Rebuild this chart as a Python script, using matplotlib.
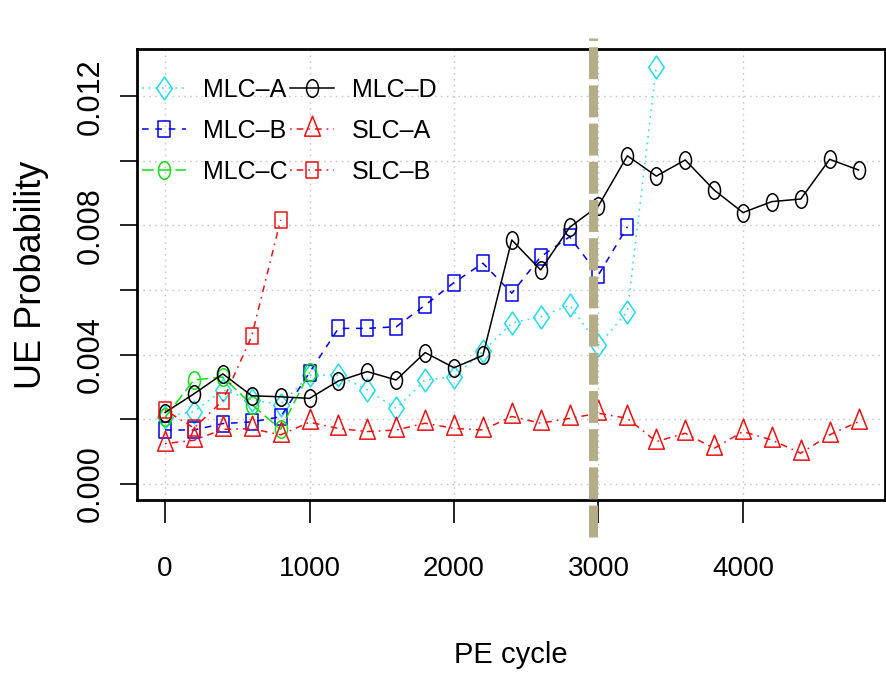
import matplotlib
matplotlib.use('Agg')
import matplotlib.pyplot as plt
import numpy as np
from matplotlib.path import Path

# PE cycles where each chip was measured
pe_cycles = [0, 200, 400, 600, 800, 1000, 1200, 1400, 1600, 1800, 2000, 2200,
             2400, 2600, 2800, 3000, 3200, 3400, 3600, 3800, 4000, 4200, 4400,
             4600, 4800]

# UE probability (x 1e-3)
mlc_a = [2.07, 2.23, 2.90, 2.60, 2.45, 3.36, 3.36, 2.90, 2.33, 3.21, 3.31, 4.10,
         4.97, 5.17, 5.53, 4.29, 5.33, 12.92]
mlc_b = [1.66, 1.66, 1.86, 1.91, 2.07, 3.44, 4.81, 4.81, 4.86, 5.53, 6.23, 6.83,
         5.90, 7.03, 7.65, 6.47, 7.96]
mlc_c = [2.05, 3.21, 3.30, 2.45, 1.68, 3.45]
mlc_d = [2.20, 2.78, 3.40, 2.72, 2.69, 2.64, 3.18, 3.47, 3.21, 4.06, 3.59, 3.97,
         7.55, 6.62, 7.94, 8.61, 10.16, 9.53, 10.03, 9.10, 8.40, 8.74, 8.82,
         10.05, 9.72]
slc_a = [1.24, 1.34, 1.68, 1.70, 1.51, 1.90, 1.71, 1.61, 1.66, 1.87, 1.71, 1.66,
         2.08, 1.87, 2.02, 2.18, 2.02, 1.30, 1.56, 1.09, 1.61, 1.35, 0.94, 1.51,
         1.92]
slc_b = [2.28, 1.72, 2.57, 4.57, 8.17]

series_names = ['MLC–A', 'MLC–B', 'MLC–C', 'MLC–D', 'SLC–A', 'SLC–B']
cutoff_pe = 2962

xtick_vals = [0, 1000, 2000, 3000, 4000]
ytick_vals = [0.0, 0.002, 0.004, 0.006, 0.008, 0.010, 0.012]
ytick_labels = ['0.000', '', '0.004', '', '0.008', '', '0.012']

plt.rcParams['lines.scale_dashes'] = False
FONT = ['Liberation Sans', 'DejaVu Sans']
plt.rcParams['font.family'] = FONT


def tall(verts, codes=None):
    """marker path, taller than wide (picture is stretched vertically)"""
    return Path(np.asarray(verts, dtype=float), codes)


uc = Path.unit_circle()
m_circle = tall(uc.vertices * [0.686, 1.0], uc.codes)
m_diamond = tall([(0, -1), (0.68, 0), (0, 1), (-0.68, 0), (0, -1)],
                 [Path.MOVETO, Path.LINETO, Path.LINETO, Path.LINETO, Path.CLOSEPOLY])
m_square = tall([(-0.74, -1), (0.74, -1), (0.74, 1), (-0.74, 1), (-0.74, -1)],
                [Path.MOVETO, Path.LINETO, Path.LINETO, Path.LINETO, Path.CLOSEPOLY])
m_tri = tall([(0, 1), (0.59, -0.5), (-0.59, -0.5), (0, 1)],
             [Path.MOVETO, Path.LINETO, Path.LINETO, Path.CLOSEPOLY])

u = 1.2  # R line type unit in points
dotted = (0, (u, 3 * u))
dashed = (0, (4 * u, 4 * u))
longdash = (0, (7 * u, 3 * u))
dotdash = (0, (u, 3 * u, 4 * u, 3 * u))

CYAN = '#22DDEE'
BLUE = '#0000EE'
GREEN = '#11E011'
RED = '#EE1111'

styles = [
    (mlc_a, CYAN, dotted, m_diamond, 16.5),
    (mlc_b, BLUE, dashed, m_square, 12.0),
    (mlc_c, GREEN, longdash, m_circle, 12.6),
    (mlc_d, 'black', '-', m_circle, 12.6),
    (slc_a, RED, dotdash, m_tri, 19.2),
    (slc_b, RED, dotdash, m_square, 12.0),
]

fig = plt.figure(figsize=(8.87, 6.77), dpi=100)
ax = fig.add_axes([137 / 887, 177 / 677, 748 / 887, 451 / 677])

for name, (vals, col, ls, mk, ms) in zip(series_names, styles):
    y = np.array(vals) * 1e-3
    x = pe_cycles[:len(y)]
    ax.plot(x, y, color=col, linestyle=ls, linewidth=1.1, marker=mk,
            markersize=ms, markerfacecolor='none', markeredgecolor=col,
            markeredgewidth=1.1, label=name, zorder=3)

# wear-out boundary, drawn past the box like in the original
ax.plot([cutoff_pe, cutoff_pe], [-0.00166, 0.0138], color='#B5AC88', lw=6.5,
        linestyle=(0, (23, 4.5)), clip_on=False, zorder=4)

ax.set_xlim(-194, 4983)
ax.set_ylim(-0.00051, 0.01347)
ax.set_xticks(xtick_vals)
ax.set_xticklabels([str(v) for v in xtick_vals])
ax.set_yticks(ytick_vals)
ax.set_yticklabels(ytick_labels, rotation=90, va='center')

ax.grid(True, color='#C8C8C8', linestyle=(0, (1.2, 3)), linewidth=1.0)
ax.set_axisbelow(True)
for sp in ax.spines.values():
    sp.set_linewidth(2.0)

ax.tick_params(axis='x', direction='out', length=16.6, width=1.2, pad=24,
               labelsize=20)
ax.tick_params(axis='y', direction='out', length=12.2, width=1.2, pad=10,
               labelsize=22)

ax.set_xlabel('PE cycle', fontsize=21, va='baseline')
ax.xaxis.set_label_coords(0.5, (500 - 663) / 451)
ax.set_ylabel('UE Probability', fontsize=26, va='center', ha='center')
ax.yaxis.set_label_coords((32 - 137) / 748, 0.5)

ax.legend(ncol=2, frameon=False, loc='upper left',
          bbox_to_anchor=(142 / 887, 1 - 78 / 677), bbox_transform=fig.transFigure,
          borderaxespad=0, borderpad=0, handlelength=1.75, handletextpad=0.7,
          columnspacing=0.1, labelspacing=0.68, prop={'size': 18})

fig.savefig('out.png', dpi=100)
